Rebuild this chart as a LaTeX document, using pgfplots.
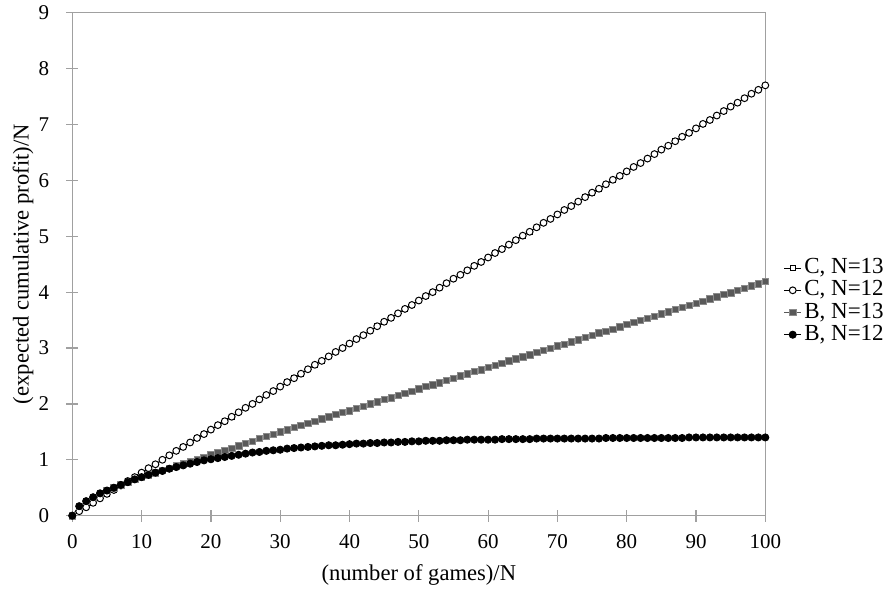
\documentclass[border=0pt]{standalone}
\usepackage{pgfplots}
\pgfplotsset{compat=1.18}
\usepackage{pgfplotstable}
\usepackage{fontspec}
\setmainfont{Liberation Serif}

\definecolor{axisgray}{RGB}{160,160,160}
\definecolor{bgray}{RGB}{89,89,89}

% x = (number of games)/N, c = strategy C (both N), b13 / b12 = strategy B
\pgfplotstableread{
x c b13 b12
0 0 0 0
1 0.08 0.17 0.17
2 0.15 0.26 0.26
3 0.23 0.33 0.33
4 0.31 0.40 0.40
5 0.39 0.45 0.45
6 0.46 0.50 0.50
7 0.54 0.55 0.55
8 0.62 0.60 0.60
9 0.69 0.65 0.65
10 0.77 0.69 0.69
11 0.85 0.73 0.73
12 0.92 0.77 0.77
13 1.00 0.81 0.80
14 1.08 0.85 0.84
15 1.16 0.89 0.87
16 1.23 0.93 0.90
17 1.31 0.97 0.93
18 1.39 1.01 0.96
19 1.46 1.05 0.99
20 1.54 1.09 1.01
21 1.62 1.13 1.03
22 1.69 1.17 1.05
23 1.77 1.21 1.07
24 1.85 1.25 1.09
25 1.93 1.29 1.11
26 2.00 1.33 1.13
27 2.08 1.38 1.14
28 2.16 1.42 1.16
29 2.23 1.46 1.17
30 2.31 1.50 1.18
31 2.39 1.54 1.20
32 2.46 1.58 1.21
33 2.54 1.62 1.22
34 2.62 1.65 1.23
35 2.70 1.69 1.24
36 2.77 1.73 1.25
37 2.85 1.77 1.26
38 2.93 1.81 1.26
39 3.00 1.85 1.27
40 3.08 1.88 1.28
41 3.16 1.92 1.29
42 3.23 1.96 1.29
43 3.31 2.00 1.30
44 3.39 2.04 1.30
45 3.47 2.08 1.31
46 3.54 2.11 1.31
47 3.62 2.15 1.32
48 3.70 2.19 1.32
49 3.77 2.23 1.33
50 3.85 2.27 1.33
51 3.93 2.31 1.34
52 4.00 2.34 1.34
53 4.08 2.38 1.34
54 4.16 2.42 1.35
55 4.24 2.46 1.35
56 4.31 2.50 1.35
57 4.39 2.54 1.36
58 4.47 2.58 1.36
59 4.54 2.61 1.36
60 4.62 2.65 1.36
61 4.70 2.69 1.36
62 4.77 2.73 1.37
63 4.85 2.77 1.37
64 4.93 2.81 1.37
65 5.01 2.84 1.37
66 5.08 2.88 1.37
67 5.16 2.92 1.38
68 5.24 2.96 1.38
69 5.31 3.00 1.38
70 5.39 3.04 1.38
71 5.47 3.07 1.38
72 5.54 3.11 1.38
73 5.62 3.15 1.38
74 5.70 3.19 1.38
75 5.78 3.23 1.38
76 5.85 3.27 1.38
77 5.93 3.30 1.39
78 6.01 3.34 1.39
79 6.08 3.38 1.39
80 6.16 3.42 1.39
81 6.24 3.46 1.39
82 6.31 3.50 1.39
83 6.39 3.53 1.39
84 6.47 3.57 1.39
85 6.55 3.61 1.39
86 6.62 3.65 1.39
87 6.70 3.69 1.39
88 6.78 3.73 1.39
89 6.85 3.76 1.40
90 6.93 3.80 1.40
91 7.01 3.84 1.40
92 7.08 3.88 1.40
93 7.16 3.92 1.40
94 7.24 3.96 1.40
95 7.32 3.99 1.40
96 7.39 4.03 1.40
97 7.47 4.07 1.40
98 7.55 4.11 1.40
99 7.62 4.15 1.40
100 7.70 4.19 1.40
}\profit

\begin{document}
\begin{tikzpicture}
\begin{axis}[
    scale only axis,
    width=346.5pt, height=251.5pt,
    xmin=0, xmax=100, ymin=0, ymax=9,
    xtick={0,10,...,100}, ytick={0,1,...,9},
    xtick pos=bottom, ytick pos=left,
    tick align=center, major tick length=6pt,
    axis line style={axisgray, line width=0.6pt},
    tick style={axisgray, line width=0.6pt},
    /pgf/number format/assume math mode=true,
    every tick label/.append style={font=\fontsize{10.5}{12}\selectfont},
    xticklabel style={yshift=-3pt},
    yticklabel style={xshift=-5pt},
    xlabel={(number of games)/N},
    ylabel={(expected cumulative profit)/N},
    label style={font=\fontsize{11.3}{13}\selectfont},
    x label style={at={(axis description cs:0.5,-0.118)}, anchor=center},
    y label style={at={(axis description cs:-0.071,0.5)}, anchor=center},
    clip=false,
    legend style={draw=none, fill=none, at={(axis description cs:1.026,0.426)},
        anchor=west, inner sep=0pt, row sep=0.6pt,
        font=\fontsize{11.5}{13}\selectfont,
        nodes={inner xsep=1.3pt, inner ysep=0pt, text height=8pt, text depth=2.5pt}},
    legend cell align=left,
    legend image code/.code={\draw[mark repeat=2,mark phase=2]
        plot coordinates {(0pt,0pt) (4.3pt,0pt) (8.6pt,0pt)};},
]
\addplot[black, line width=0.4pt, mark=square*, mark size=1.15pt,
    mark options={fill=white, line width=0.45pt}] table[x=x, y=c] {\profit};
\addplot[black, line width=0.4pt, mark=*, mark size=1.7pt,
    mark options={fill=white, line width=0.5pt}] table[x=x, y=c] {\profit};
\addplot[bgray, line width=0.4pt, mark=square*, mark size=1.6pt,
    mark options={fill=bgray, draw=bgray!70!white, line width=0.3pt}] table[x=x, y=b13] {\profit};
\addplot[black, line width=0.4pt, mark=*, mark size=1.8pt,
    mark options={fill=black}] table[x=x, y=b12] {\profit};
\legend{{C, N=13}, {C, N=12}, {B, N=13}, {B, N=12}}
\end{axis}
\pgfresetboundingbox
\path ([shift={(-36.15pt,-36.65pt)}]current axis.south west)
    rectangle ([shift={(63.85pt,6.35pt)}]current axis.north east);
\end{tikzpicture}
\end{document}
